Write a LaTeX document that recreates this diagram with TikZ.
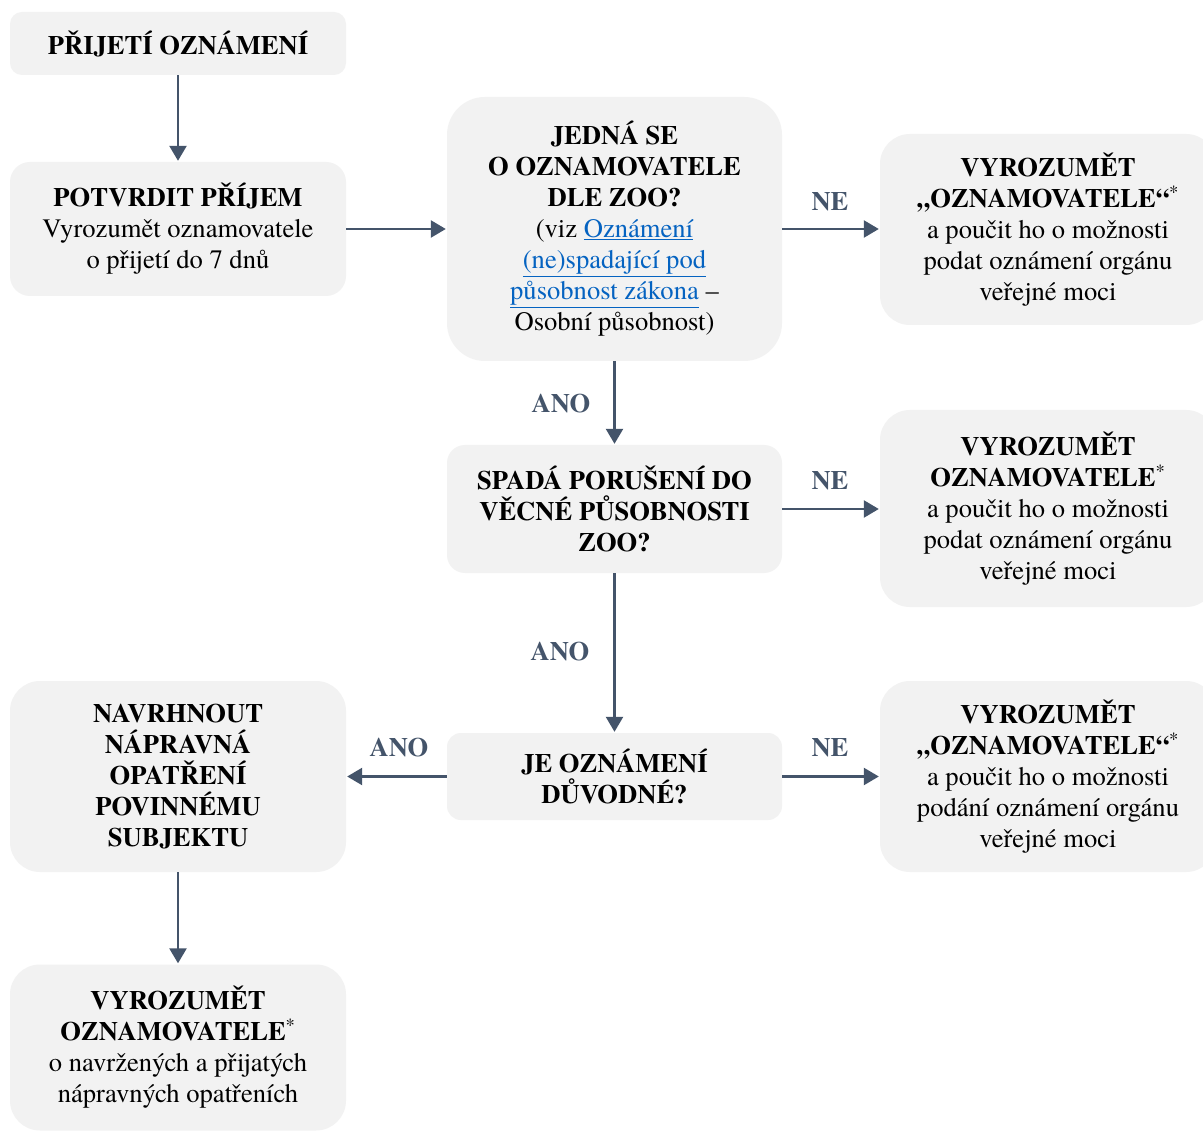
\documentclass[tikz,border=0pt]{standalone}
\usepackage{fontspec}
\setmainfont{texgyretermes}[Extension=.otf, UprightFont=*-regular, BoldFont=*-bold, ItalicFont=*-italic, BoldItalicFont=*-bolditalic]
\usetikzlibrary{arrows.meta}
\definecolor{boxgray}{HTML}{F2F2F2}
\definecolor{arr}{HTML}{44546A}
\definecolor{linkblue}{HTML}{0563C1}
\newcommand{\lnk}[1]{\textcolor{linkblue}{\underline{#1}}}
\newcommand{\supast}{\textsuperscript{\normalfont *}}
\begin{document}
\begin{tikzpicture}[x=1pt,y=-1pt,
  box/.style={fill=boxgray, draw=none, align=center, inner sep=0pt,
    font=\fontsize{26.6}{31}\selectfont, rounded corners=#1, minimum width=336pt},
  box/.default=20pt,
  conn/.style={draw=arr, line width=2.5pt, shorten >=1pt,
    -{Triangle[length=15pt,width=17pt]}},
  lbl/.style={text=arr, inner sep=0pt, font=\fontsize{26.6}{31}\selectfont\bfseries}]
\clip (0,0) rectangle (1203,1131);
\fill[white] (0,0) rectangle (1203,1131);

\node[box=12pt, minimum height=63pt] (n1) at (178,43.5) {\textbf{PŘIJETÍ OZNÁMENÍ}};
\node[box=20pt, minimum height=134pt] (n2) at (178,229)
  {\textbf{POTVRDIT PŘÍJEM}\\ Vyrozumět oznamovatele\\ o přijetí do 7 dnů};
\node[box=38pt, minimum width=335pt, minimum height=264pt] (n3) at (614.5,229)
  {\textbf{JEDNÁ SE}\\ \textbf{O OZNAMOVATELE}\\ \textbf{DLE ZOO?}\\
   (viz \lnk{Oznámení}\\ \lnk{(ne)spadající pod}\\ \lnk{působnost zákona} –\\ Osobní působnost)};
\node[box=30pt, minimum height=191pt] (n4) at (1048,229.5)
  {\textbf{VYROZUMĚT}\\ \textbf{„OZNAMOVATELE“}\supast\\ a poučit ho o možnosti\\ podat oznámení orgánu\\ veřejné moci};
\node[box=18pt, minimum width=335pt, minimum height=128pt] (n5) at (614.5,509)
  {\textbf{SPADÁ PORUŠENÍ DO}\\ \textbf{VĚCNÉ PŮSOBNOSTI}\\ \textbf{ZOO?}};
\node[box=30pt, minimum height=197pt] (n6) at (1048,508.5)
  {\textbf{VYROZUMĚT}\\ \textbf{OZNAMOVATELE}\supast\\ a poučit ho o možnosti\\ podat oznámení orgánu\\ veřejné moci};
\node[box=14pt, minimum width=335pt, minimum height=87pt] (n7) at (614.5,776.5)
  {\textbf{JE OZNÁMENÍ}\\ \textbf{DŮVODNÉ?}};
\node[box=30pt, minimum height=191pt] (n8) at (1048,776.5)
  {\textbf{VYROZUMĚT}\\ \textbf{„OZNAMOVATELE“}\supast\\ a poučit ho o možnosti\\ podání oznámení orgánu\\ veřejné moci};
\node[box=30pt, minimum height=191pt] (n9) at (178,776.5)
  {\textbf{NAVRHNOUT}\\ \textbf{NÁPRAVNÁ}\\ \textbf{OPATŘENÍ}\\ \textbf{POVINNÉMU}\\ \textbf{SUBJEKTU}};
\node[box=30pt, minimum height=166pt] (n10) at (178,1047.5)
  {\textbf{VYROZUMĚT}\\ \textbf{OZNAMOVATELE}\supast\\ o navržených a přijatých\\ nápravných opatřeních};

\draw[conn] (n1) -- (n2);
\draw[conn] (n2) -- (n3);
\draw[conn] (n3.east) -- (n3.east -| n4.west);
\draw[conn] (n3) -- (n5);
\draw[conn] (n5.east) -- (n5.east -| n6.west);
\draw[conn] (n5) -- (n7);
\draw[conn] (n7.east) -- (n7.east -| n8.west);
\draw[conn] (n7.west) -- (n7.west -| n9.east);
\draw[conn] (n9) -- (n10);

\node[lbl] (l1) at (830,202) {NE};
\node[lbl] (l2) at (830,481) {NE};
\node[lbl] (l3) at (830,748) {NE};
\node[lbl] (l4) at (561,404) {ANO};
\node[lbl] (l5) at (560,652) {ANO};
\node[lbl] (l6) at (399,748) {ANO};
\end{tikzpicture}
\end{document}
